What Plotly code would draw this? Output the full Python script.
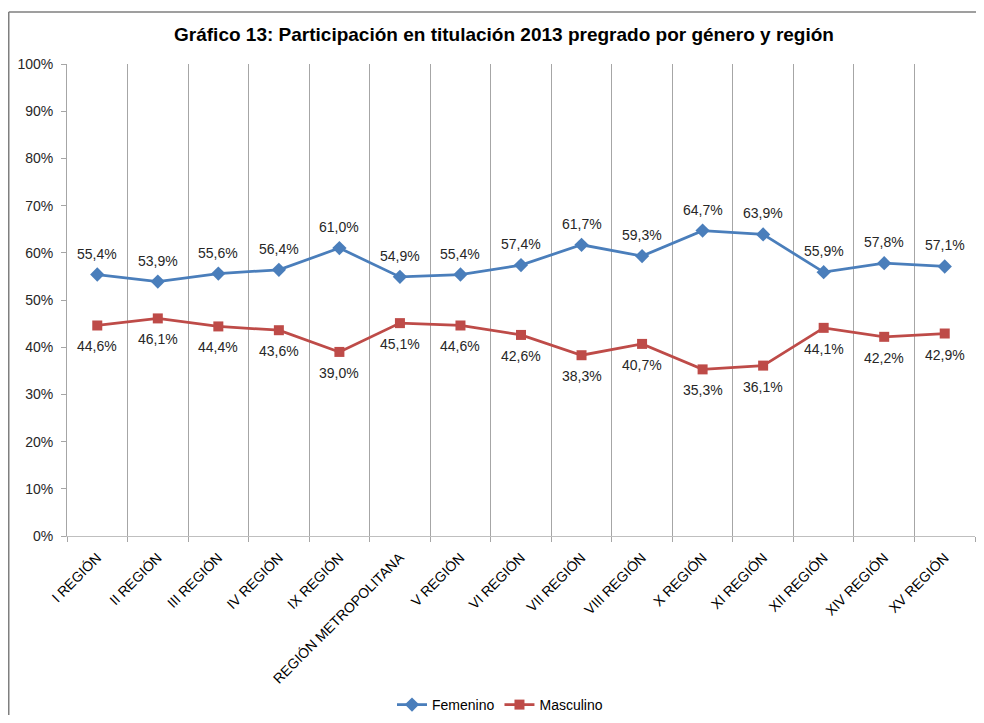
import plotly.graph_objects as go

categories = ["I REGIÓN", "II REGIÓN", "III REGIÓN", "IV REGIÓN", "IX REGIÓN",
              "REGIÓN METROPOLITANA", "V REGIÓN", "VI REGIÓN", "VII REGIÓN",
              "VIII REGIÓN", "X REGIÓN", "XI REGIÓN", "XII REGIÓN", "XIV REGIÓN",
              "XV REGIÓN"]
femenino = [0.554, 0.539, 0.556, 0.564, 0.610, 0.549, 0.554, 0.574, 0.617,
            0.593, 0.647, 0.639, 0.559, 0.578, 0.571]
masculino = [0.446, 0.461, 0.444, 0.436, 0.390, 0.451, 0.446, 0.426, 0.383,
             0.407, 0.353, 0.361, 0.441, 0.422, 0.429]
y_ticks = [0, 0.1, 0.2, 0.3, 0.4, 0.5, 0.6, 0.7, 0.8, 0.9, 1.0]

# The page has an 8px body margin, so the figure is sized to fit the
# 984x723 window exactly and all positions are in figure pixels.
W, H = 968, 707
L, R, T, B = 59, 1, 56, 179
pw, ph = W - L - R, H - T - B

BLUE = "#4A7EBB"
RED = "#BE4B48"
FONT = "Liberation Sans, Arial, sans-serif"


def pct(v):
    return f"{v * 100:.1f}%".replace(".", ",")


fig = go.Figure()
fig.add_trace(go.Scatter(
    x=categories, y=femenino, name="Femenino", mode="lines+markers",
    line=dict(color=BLUE, width=2.75),
    marker=dict(symbol="diamond", size=11, color=BLUE),
    cliponaxis=False,
))
fig.add_trace(go.Scatter(
    x=categories, y=masculino, name="Masculino", mode="lines+markers",
    line=dict(color=RED, width=2.75),
    marker=dict(symbol="square", size=10, color=RED),
    cliponaxis=False,
))

for c, v in zip(categories, femenino):
    fig.add_annotation(x=c, y=v, text=pct(v), showarrow=False, yshift=21,
                       font=dict(size=14, color="#262626", family=FONT))
for c, v in zip(categories, masculino):
    fig.add_annotation(x=c, y=v, text=pct(v), showarrow=False, yshift=-21,
                       font=dict(size=14, color="#262626", family=FONT))

fig.update_layout(
    width=W, height=H,
    margin=dict(l=L, r=R, t=T, b=B, autoexpand=False),
    paper_bgcolor="white", plot_bgcolor="white",
    separators=",.",
    font=dict(family=FONT, size=14, color="#262626"),
    title=dict(text="<b>Gráfico 13: Participación en titulación 2013 pregrado por género y región</b>",
               x=496 / W, xref="container", xanchor="center",
               y=1 - 26 / H, yref="container", yanchor="middle",
               font=dict(size=19, color="#000000", family=FONT)),
    showlegend=True,
    legend=dict(orientation="h", x=(492 - L) / pw, xanchor="center",
                y=(H - B - 697) / ph, yanchor="middle",
                font=dict(size=14, color="#000000", family=FONT),
                itemwidth=30, bgcolor="rgba(0,0,0,0)"),
    xaxis=dict(type="category", tickson="boundaries", range=[-0.5, 14.5],
               showgrid=True, gridcolor="#A6A6A6", gridwidth=1,
               showline=True, linecolor="#BFBFBF", linewidth=1,
               ticks="outside", ticklen=5, tickcolor="#A6A6A6",
               ticklabelstandoff=7,
               tickangle=-45, tickfont=dict(size=14, color="#000000"),
               zeroline=False, fixedrange=True, automargin=False),
    yaxis=dict(range=[0, 1], tickvals=y_ticks, tickformat=".0%",
               showgrid=False, showline=True, linecolor="#A6A6A6", linewidth=1,
               ticks="outside", ticklen=5, tickcolor="#A6A6A6",
               ticklabelstandoff=5,
               tickfont=dict(size=14, color="#262626"),
               zeroline=False, fixedrange=True, automargin=False),
)

# outer chart frame (left and top edges; the rest lies outside the window)
frame_x = (0.75 - L) / pw
frame_top = (H - B - 4) / ph
frame_bottom = (H - B - (H + 20)) / ph
frame_right = (W + 20 - L) / pw
fig.add_shape(type="line", xref="paper", yref="paper",
              x0=frame_x, x1=frame_x, y0=frame_bottom, y1=frame_top,
              line=dict(color="#7F7F7F", width=1.5), layer="below")
fig.add_shape(type="line", xref="paper", yref="paper",
              x0=frame_x, x1=frame_right, y0=frame_top, y1=frame_top,
              line=dict(color="#7F7F7F", width=1.5), layer="below")

fig.write_html("out.html")
